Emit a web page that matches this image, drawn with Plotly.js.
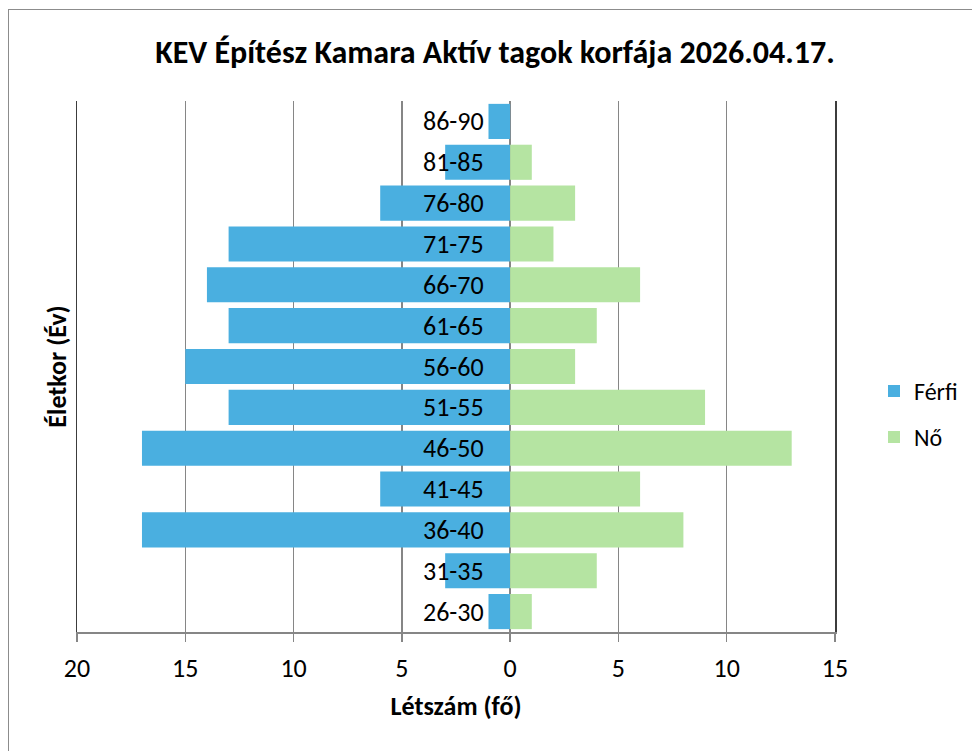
<!DOCTYPE html>
<html>
<head>
<meta charset="utf-8">
<script src="https://cdn.plot.ly/plotly-3.0.1.min.js"></script>
<style>
  html, body { margin: 0; padding: 0; background: #fff; }
  #frame { position: absolute; left: 8px; top: 9px; width: 2000px; height: 2000px;
           border-left: 1px solid #8c8c8c; border-top: 1px solid #8c8c8c; box-sizing: border-box; }
  #chart { position: absolute; left: 0; top: 0; width: 972px; height: 751px; }
</style>
</head>
<body>
<div id="frame"></div>
<div id="chart"></div>
<script>
// Data
const categories = ["26-30","31-35","36-40","41-45","46-50","51-55","56-60","61-65","66-70","71-75","76-80","81-85","86-90"];
const ferfi = [1, 3, 17, 6, 17, 13, 15, 13, 14, 13, 6, 3, 1];
const no = [1, 4, 8, 6, 13, 9, 3, 4, 6, 2, 3, 1, 0];
const xTickVals = [-20, -15, -10, -5, 0, 5, 10, 15];
const xTickText = ["20", "15", "10", "5", "0", "5", "10", "15"];

const FONT = "Carlito, Lato, 'Liberation Sans', sans-serif";
const xMin = -20, xMax = 15;

const traces = [
  {
    type: "bar", orientation: "h", name: "Férfi",
    y: categories, x: ferfi.map(v => -v),
    marker: { color: "#4aafe0", line: { width: 0 } },
    legendgroup: "f", hoverinfo: "skip"
  },
  {
    type: "bar", orientation: "h", name: "Nő",
    y: categories, x: no,
    marker: { color: "#b5e4a2", line: { width: 0 } },
    legendgroup: "n", hoverinfo: "skip"
  }
];

const annotations = categories.map(c => ({
  x: 0, y: c, xref: "x", yref: "y",
  text: c, showarrow: false, xanchor: "right", yanchor: "middle",
  xshift: -24, font: { family: FONT, size: 26, color: "#000" }
}));

const layout = {
  width: 972, height: 751,
  margin: { l: 77, r: 137, t: 101, b: 119, autoexpand: false },
  paper_bgcolor: "rgba(0,0,0,0)", plot_bgcolor: "#fff",
  font: { family: FONT, color: "#000" },
  barmode: "overlay", bargap: 0.14,
  title: {
    text: "<b>KEV Építész Kamara Aktív tagok korfája 2026.04.17.</b>",
    font: { family: FONT, size: 32, color: "#000" },
    xref: "container", x: 495 / 972, xanchor: "center",
    yref: "container", y: 1 - 52 / 751, yanchor: "middle"
  },
  xaxis: {
    range: [xMin, xMax], tickvals: xTickVals, ticktext: xTickText,
    showgrid: true, gridcolor: "#868686", gridwidth: 1.5,
    zeroline: true, zerolinecolor: "#868686", zerolinewidth: 1.5,
    showline: true, linecolor: "#868686", linewidth: 1.5,
    ticks: "outside", ticklen: 8, tickcolor: "#868686", tickwidth: 1.5,
    ticklabelstandoff: 4,
    tickfont: { family: FONT, size: 26, color: "#000" },
    title: { text: "<b>Létszám (fő)</b>", font: { family: FONT, size: 26, color: "#000" }, standoff: 14 },
    fixedrange: true
  },
  yaxis: {
    type: "category", range: [-0.5, categories.length - 0.5],
    showgrid: false, zeroline: false,
    showline: true, mirror: true, linecolor: "#3c3c3c", linewidth: 1.5,
    ticks: "", showticklabels: false,
    title: { text: "<b>Életkor (Év)</b>", font: { family: FONT, size: 26, color: "#000" }, standoff: 1 },
    fixedrange: true
  },
  yaxis2: {
    overlaying: "y", anchor: "free", side: "left",
    position: (0 - xMin) / (xMax - xMin),
    type: "linear", range: [-0.5, categories.length - 0.5],
    tickvals: categories.slice(1).map((c, i) => i + 0.5),
    ticks: "outside", ticklen: 8, tickcolor: "#868686", tickwidth: 1.5,
    showticklabels: false, showgrid: false, zeroline: false, showline: false,
    fixedrange: true
  },
  legend: {
    x: (874 - 77) / 758, xanchor: "left", y: 0.41, yanchor: "middle",
    font: { family: FONT, size: 24, color: "#000" },
    traceorder: "grouped", tracegroupgap: 12,
    bgcolor: "rgba(0,0,0,0)"
  },
  annotations: annotations,
  showlegend: true
};

Plotly.newPlot("chart", traces, layout, { displayModeBar: false, staticPlot: true });
</script>
</body>
</html>
